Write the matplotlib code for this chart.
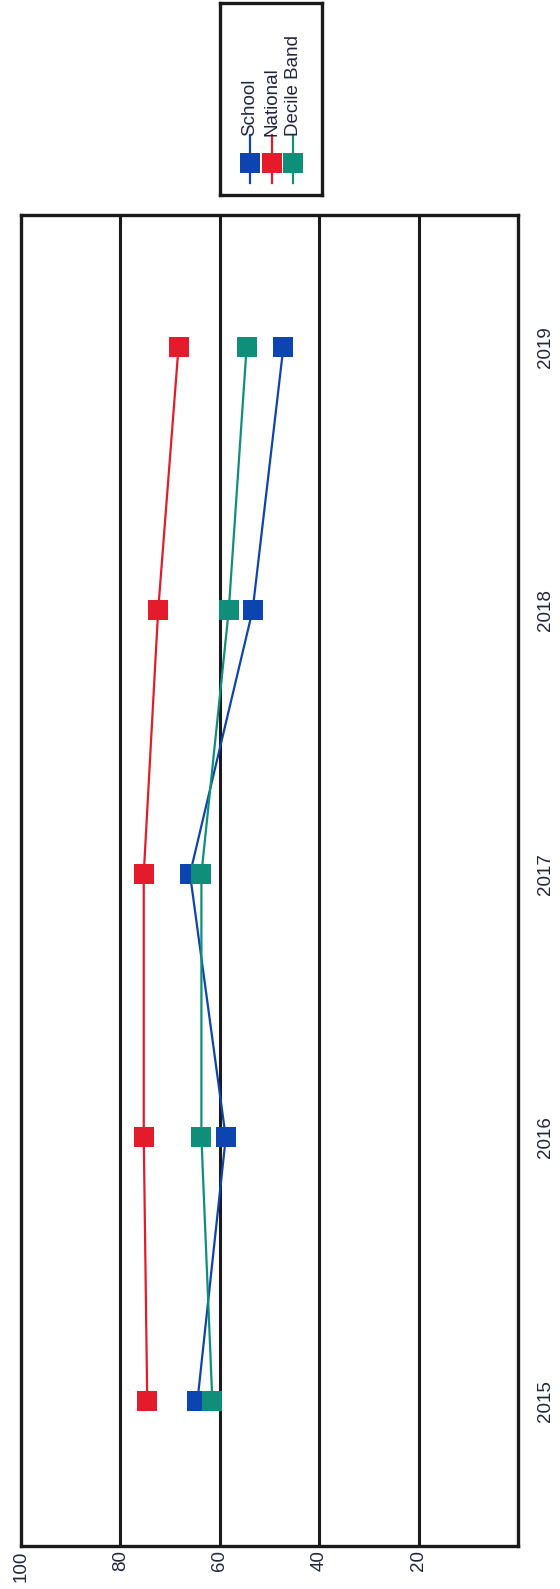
import numpy as np
import matplotlib
matplotlib.use("Agg")
import matplotlib.pyplot as plt

plt.rcParams['font.family'] = ['Liberation Sans', 'DejaVu Sans']

years = ["2015", "2016", "2017", "2018", "2019"]
school = [64.5, 58.8, 66.0, 53.4, 47.2]
national = [74.6, 75.3, 75.3, 72.4, 68.3]
decile_band = [61.5, 63.7, 63.7, 58.2, 54.6]

series_names = ["School", "National", "Decile Band"]
series_values = [school, national, decile_band]
series_colors = ["#0c44b0", "#e31b2b", "#0f8f7a"]

value_ticks = [100, 80, 60, 40, 20]
grid_values = [80, 60, 40, 20]

text_color = "#1f2740"
label_size = 13.5

fig = plt.figure(figsize=(5.6, 15.89), dpi=100)
ax = fig.add_axes([21/560, (1589-1546)/1589, 497/560, (1546-215)/1589])

pos = np.arange(len(years))
for name, vals, col in zip(series_names, series_values, series_colors):
    ax.plot(vals, pos, color=col, linewidth=1.6, marker='s', markersize=15,
            markeredgewidth=0, zorder=5, label=name)

for g in grid_values:
    ax.axvline(g, color='#1a1a1a', linewidth=2.2, zorder=2)

ax.set_xlim(100, 0)
ax.set_ylim(-0.55, 4.5)
ax.set_xticks(value_ticks)
ax.set_xticklabels([str(v) for v in value_ticks], rotation=90, fontsize=label_size, color=text_color)
ax.yaxis.tick_right()
ax.set_yticks(pos)
ax.set_yticklabels(years, rotation=90, va='center', fontsize=label_size, color=text_color)
ax.tick_params(axis='x', length=0, pad=3)
ax.tick_params(axis='y', length=0, pad=14)
for sp in ax.spines.values():
    sp.set_linewidth(2.4)
    sp.set_color('#1a1a1a')

# legend box, drawn sideways like the scanned page
lax = fig.add_axes([220/560, (1589-195)/1589, 102/560, 192/1589])
lax.set_xlim(0, 102)
lax.set_ylim(192, 0)
lax.set_xticks([])
lax.set_yticks([])
for sp in lax.spines.values():
    sp.set_linewidth(2.4)
    sp.set_color('#1a1a1a')
for i, (name, col) in enumerate(zip(series_names, series_colors)):
    lx = 30 + i * 21.5
    lax.plot([lx, lx], [132, 180], color=col, linewidth=1.6)
    lax.plot([lx], [160], color=col, marker='s', markersize=15, markeredgewidth=0)
    lax.text(lx, 133, name, rotation=90, ha='center', va='bottom',
             fontsize=label_size, color=text_color)

fig.savefig("out.png", dpi=100)
